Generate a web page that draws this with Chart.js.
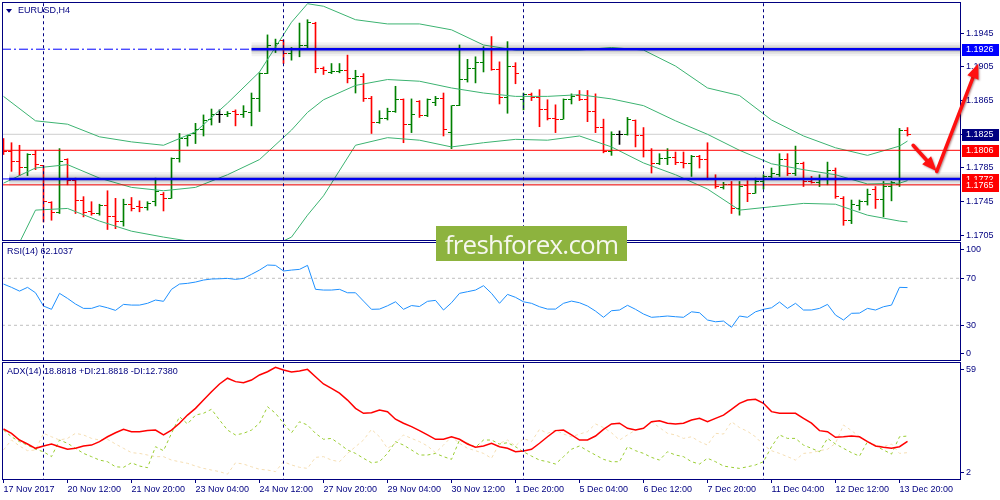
<!DOCTYPE html>
<html>
<head>
<meta charset="utf-8">
<script src="https://cdn.jsdelivr.net/npm/chart.js"></script>
<style>
  body { margin: 0; background: #fff; }
  #wrap { position: relative; width: 1000px; height: 500px; overflow: hidden; background: #fff; font-family: 'Liberation Sans', Arial, sans-serif; }
  canvas { position: absolute; left: 0; }
  .lbl { position: absolute; font-size: 9px; line-height: 11px; color: #000080; white-space: nowrap; }
  #tri { position: absolute; left: 6px; top: 9px; width: 0; height: 0; border-left: 3.5px solid transparent; border-right: 3.5px solid transparent; border-top: 4px solid #000080; }
  #mark { position: absolute; left: 436px; top: 226px; width: 191px; height: 35px; background: #8db33e; color: #f6f7ee;
          font-family: 'Open Sans', sans-serif; font-size: 26px; letter-spacing: -0.8px; display: flex; align-items: center; justify-content: center; }
</style>
</head>
<body>
<div id="wrap">
  <canvas id="main" width="1000" height="241" style="top:0"></canvas>
  <canvas id="rsi" width="1000" height="120" style="top:241px"></canvas>
  <canvas id="adx" width="1000" height="139" style="top:361px"></canvas>
  <div id="tri"></div>
  <div class="lbl" style="left:18px;top:5px">EURUSD,H4</div>
  <div class="lbl" style="left:7px;top:246px">RSI(14) 62.1037</div>
  <div class="lbl" style="left:7px;top:366px">ADX(14) 18.8818 +DI:21.8818 -DI:12.7380</div>
  <div id="mark">freshforex.com</div>
</div>
<script>
// EURUSD H4 bars, 17 Nov 2017 04:00 .. 14 Dec 2017 00:00 (index = bar number)
var openP = [
  1.1806,1.1804,1.1793,1.1786,1.1801,1.1788,1.1744,1.1732,1.1795,1.1770,
  1.1746,1.1733,1.1731,1.1740,1.1728,1.1721,1.1742,1.1739,1.1738,1.1745,
  1.1754,1.1749,1.1796,1.1820,1.1826,1.1831,1.1842,1.1849,1.1848,1.1852,
  1.1848,1.1851,1.1867,1.1897,1.1927,1.1936,1.1921,1.1927,1.1930,1.1957,
  1.1903,1.1898,1.1899,1.1901,1.1891,1.1894,1.1868,1.1839,1.1844,1.1852,
  1.1866,1.1837,1.1864,1.1847,1.1863,1.1868,1.1827,1.1859,1.1890,1.1903,
  1.1910,1.1926,1.1902,1.1869,1.1905,1.1866,1.1872,1.1869,1.1854,1.1844,
  1.1843,1.1866,1.1871,1.1866,1.1852,1.1833,1.1804,1.1825,1.1825,1.1841,
  1.1823,1.1806,1.1790,1.1796,1.1798,1.1791,1.1790,1.1799,1.1795,1.1772,
  1.1762,1.1765,1.1737,1.1764,1.1755,1.1769,1.1775,1.1777,1.1795,1.1778,
  1.1790,1.1769,1.1768,1.1772,1.1782,1.1749,1.1723,1.1741,1.1745,1.1759,
  1.1748,1.1763,1.1765,1.1830
];
var highP = [
  1.1820,1.1815,1.1812,1.1802,1.1806,1.1788,1.1745,1.1808,1.1796,1.1773,
  1.1751,1.1745,1.1742,1.1758,1.1749,1.1748,1.1750,1.1746,1.1745,1.1773,
  1.1756,1.1797,1.1826,1.1824,1.1838,1.1848,1.1855,1.1854,1.1852,1.1854,
  1.1859,1.1874,1.1898,1.1943,1.1938,1.1937,1.1928,1.1957,1.1961,1.1958,
  1.1905,1.1909,1.1909,1.1919,1.1901,1.1897,1.1870,1.1853,1.1856,1.1882,
  1.1867,1.1867,1.1865,1.1867,1.1870,1.1874,1.1859,1.1931,1.1914,1.1917,
  1.1929,1.1941,1.1911,1.1935,1.1910,1.1874,1.1874,1.1878,1.1866,1.1860,
  1.1867,1.1873,1.1877,1.1877,1.1873,1.1843,1.1828,1.1829,1.1845,1.1842,
  1.1833,1.1808,1.1802,1.1808,1.1804,1.1804,1.1800,1.1800,1.1815,1.1777,
  1.1768,1.1769,1.1769,1.1770,1.1773,1.1777,1.1785,1.1802,1.1802,1.1811,
  1.1792,1.1775,1.1777,1.1792,1.1785,1.1751,1.1747,1.1747,1.1760,1.1763,
  1.1769,1.1769,1.1832,1.1833
];
var lowP = [
  1.1801,1.1781,1.1776,1.1776,1.1783,1.1721,1.1723,1.1731,1.1765,1.1731,
  1.1727,1.1729,1.1729,1.1712,1.1713,1.1716,1.1734,1.1733,1.1735,1.1740,
  1.1734,1.1749,1.1792,1.1811,1.1814,1.1823,1.1836,1.1839,1.1846,1.1835,
  1.1845,1.1835,1.1852,1.1897,1.1922,1.1909,1.1913,1.1917,1.1927,1.1898,
  1.1896,1.1897,1.1898,1.1886,1.1874,1.1864,1.1826,1.1838,1.1842,1.1851,
  1.1815,1.1827,1.1845,1.1846,1.1859,1.1823,1.1808,1.1859,1.1887,1.1886,
  1.1899,1.1901,1.1861,1.1850,1.1885,1.1854,1.1865,1.1834,1.1842,1.1827,
  1.1843,1.1861,1.1865,1.1840,1.1827,1.1803,1.1800,1.1813,1.1824,1.1810,
  1.1798,1.1779,1.1789,1.1789,1.1789,1.1785,1.1775,1.1785,1.1771,1.1761,
  1.1760,1.1731,1.1729,1.1745,1.1755,1.1760,1.1773,1.1775,1.1776,1.1776,
  1.1763,1.1767,1.1763,1.1765,1.1749,1.1717,1.1719,1.1735,1.1741,1.1737,
  1.1727,1.1746,1.1763,1.1823
];
var closeP = [
  1.1804,1.1793,1.1786,1.1801,1.1789,1.1745,1.1732,1.1793,1.1770,1.1746,
  1.1732,1.1731,1.1741,1.1728,1.1721,1.1742,1.1737,1.1738,1.1743,1.1757,
  1.1749,1.1796,1.1820,1.1823,1.1831,1.1841,1.1848,1.1849,1.1850,1.1848,
  1.1852,1.1867,1.1897,1.1930,1.1933,1.1921,1.1927,1.1930,1.1958,1.1903,
  1.1901,1.1899,1.1901,1.1891,1.1894,1.1868,1.1839,1.1844,1.1852,1.1866,
  1.1837,1.1849,1.1847,1.1866,1.1868,1.1831,1.1859,1.1890,1.1903,1.1910,
  1.1926,1.1902,1.1869,1.1905,1.1897,1.1872,1.1869,1.1854,1.1844,1.1843,
  1.1866,1.1870,1.1866,1.1852,1.1833,1.1804,1.1825,1.1825,1.1843,1.1823,
  1.1806,1.1790,1.1796,1.1798,1.1791,1.1790,1.1799,1.1795,1.1772,1.1763,
  1.1765,1.1737,1.1763,1.1755,1.1769,1.1775,1.1779,1.1795,1.1778,1.1790,
  1.1769,1.1768,1.1772,1.1782,1.1751,1.1723,1.1742,1.1745,1.1754,1.1748,
  1.1763,1.1768,1.1830,1.1825
];

// Bollinger bands read at these bars
var bbBars   = [0,4,8,12,16,20,24,28,32,36,38,40,44,48,52,56,60,64,68,72,76,80,84,88,92,96,100,104,108,112,113];
var bbUpper  = [1.1870,1.1841,1.1837,1.1822,1.1816,1.1812,1.1828,1.1862,1.1899,1.1958,1.1980,1.1977,1.1961,1.1956,1.1956,1.1949,
                1.1931,1.1925,1.1925,1.1925,1.1928,1.1925,1.1906,1.1880,1.1871,1.1842,1.1823,1.1809,1.1800,1.1811,1.1817];
var bbMiddle = [1.1767,1.1785,1.1789,1.1773,1.1762,1.1758,1.1762,1.1777,1.1795,1.1830,1.1851,1.1866,1.1883,1.1890,1.1888,1.1880,
                1.1874,1.1870,1.1870,1.1872,1.1867,1.1859,1.1841,1.1825,1.1806,1.1790,1.1783,1.1777,1.1766,1.1767,1.1770];
var bbLower  = [1.1658,1.1735,1.1737,1.1722,1.1710,1.1703,1.1697,1.1688,1.1685,1.1703,1.1729,1.1752,1.1812,1.1821,1.1818,1.1810,
                1.1815,1.1819,1.1818,1.1823,1.1810,1.1791,1.1777,1.1760,1.1735,1.1739,1.1743,1.1742,1.1729,1.1722,1.1721];

var rsiVals = [
  65.1,62.3,59.1,62.3,57.7,46.4,43.6,57.2,52.9,48.1,
  44.4,44.4,46.6,44.9,42.7,47.8,47.2,47.2,48.7,51.5,
  50.4,60.6,65.1,65.7,66.8,68.5,69.4,69.6,69.9,69.1,
  69.9,73.4,77.0,81.3,81.0,76.2,77.0,77.6,81.0,60.6,
  60.0,60.0,60.6,57.7,57.7,50.6,43.6,43.8,46.6,50.0,
  43.6,46.8,46.0,50.4,51.2,43.0,49.2,57.2,58.6,60.0,
  63.7,57.2,48.7,56.3,53.8,50.0,48.7,45.8,43.8,43.8,
  48.7,50.6,49.2,46.4,42.1,36.8,42.4,43.0,47.0,43.6,
  39.6,36.8,37.3,37.9,37.3,36.8,41.5,40.7,34.5,33.0,
  33.6,28.3,37.9,36.8,41.5,43.6,44.9,49.8,44.4,48.7,
  43.0,43.0,44.4,47.8,38.7,34.5,40.2,40.4,44.4,43.0,
  45.8,47.2,62.3,62.1
];
var adxVals = [
  25.8,23.4,19.7,17.5,15.1,16.4,17.5,16.0,14.6,15.1,
  16.4,16.9,18.8,21.5,23.7,25.6,24.3,24.3,24.9,25.2,
  22.5,25.2,29.0,33.5,37.2,41.8,46.4,50.7,53.9,52.0,
  51.4,52.9,55.7,57.5,59.9,58.4,57.3,57.9,58.8,54.7,
  50.7,48.3,45.6,41.8,37.2,34.5,34.8,36.3,35.4,31.2,
  29.0,27.1,24.9,22.5,20.1,20.1,21.5,20.1,17.5,15.7,
  16.4,17.9,16.0,15.1,13.2,13.6,14.6,17.9,21.5,24.9,
  25.2,22.5,19.7,19.7,21.9,25.6,28.6,29.0,26.2,25.2,
  26.2,29.8,30.4,29.0,28.6,29.0,30.8,31.7,29.8,31.7,
  33.5,36.7,40.0,41.8,42.2,40.0,35.4,34.5,34.5,34.5,
  31.7,29.0,24.9,24.3,21.2,21.5,21.9,21.5,18.8,16.4,
  15.7,15.1,16.0,18.9
];
var plusDI = [
  25.2,21.5,18.8,16.9,14.6,13.2,10.5,19.7,17.9,15.1,
  12.3,10.5,8.6,7.7,4.9,4.6,7.1,5.3,4.4,16.0,
  13.8,23.4,32.6,28.6,33.5,34.5,36.7,30.8,25.2,22.5,
  23.4,25.2,29.0,38.1,34.5,29.0,23.7,29.8,28.0,23.4,
  20.1,20.6,17.5,14.2,12.3,9.6,7.1,7.7,12.3,18.8,
  16.9,14.2,11.4,11.4,12.3,10.5,9.0,19.7,17.9,15.7,
  19.7,19.7,17.5,18.2,16.0,13.2,10.8,8.6,7.7,6.4,
  10.5,14.6,16.4,13.8,11.4,9.0,7.7,7.7,16.0,13.8,
  12.3,10.1,8.6,13.2,11.4,10.5,7.7,6.4,9.6,7.7,
  5.3,4.6,4.0,4.9,5.9,7.7,16.0,22.5,20.6,20.6,
  16.9,15.1,13.2,20.6,17.5,15.1,12.7,10.8,18.8,16.4,
  14.2,11.9,21.5,21.9
];
var minusDI = [
  14.2,19.7,16.4,13.8,14.2,23.4,21.5,19.7,20.6,23.4,
  22.5,20.6,19.7,20.1,17.5,15.1,12.7,12.3,11.4,10.5,
  10.5,8.6,7.7,6.8,5.3,4.0,3.1,2.2,0.8,7.1,
  6.4,4.9,3.5,3.1,2.2,7.7,5.9,4.6,4.0,10.1,
  10.5,8.6,7.7,12.3,16.0,19.7,25.6,21.5,15.1,17.9,
  22.5,20.6,18.8,16.4,12.7,16.9,21.5,17.9,15.1,13.8,
  12.3,9.6,17.9,19.7,16.4,20.6,18.8,25.6,23.4,25.2,
  23.0,21.5,23.0,24.3,28.6,26.6,23.7,19.7,22.5,25.2,
  26.2,29.8,26.6,23.4,22.5,20.6,21.5,18.8,16.9,23.4,
  23.0,29.8,26.6,24.5,21.5,16.9,13.8,12.3,10.5,8.6,
  12.3,12.7,13.8,14.6,17.9,28.0,24.9,21.5,18.8,16.9,
  16.0,17.5,12.3,12.7
];

var priceTicks = [1.1705, 1.1745, 1.1785, 1.1825, 1.1865, 1.1905, 1.1945];
var rsiTicks = [100, 70, 30, 0];
var rsiLevels = [70, 30];
var adxTicks = [59, 2];
var xTickBars = [0, 8, 16, 24, 32, 40, 48, 56, 64, 72, 80, 88, 96, 104, 112];
var xTickLabels = ['17 Nov 2017', '20 Nov 12:00', '21 Nov 20:00', '23 Nov 04:00', '24 Nov 12:00', '27 Nov 20:00',
  '29 Nov 04:00', '30 Nov 12:00', '1 Dec 20:00', '5 Dec 04:00', '6 Dec 12:00', '7 Dec 20:00',
  '11 Dec 04:00', '12 Dec 12:00', '13 Dec 20:00'];
var weekBars = [5, 35, 65, 95];

var bidPrice = 1.1825;
var supportLevels = [1.1926, 1.1772];   // blue horizontal lines
var thickFrom = [31, 0.7];              // bar where the thick part of each blue line starts
var redLevels = [1.1806, 1.1765];
var levelBoxes = [
  { v: 1.1926, bg: '#0000ff' },
  { v: 1.1825, bg: '#000080' },
  { v: 1.1806, bg: '#ff0000' },
  { v: 1.1772, bg: '#ff0000' },
  { v: 1.1765, bg: '#ff0000' }
];
// hand drawn forecast arrow (bar, price)
var arrowBars = [113.7, 116.65, 121.85];
var arrowPrices = [1.1812, 1.1781, 1.1909];

var NAVY = '#000080';
var X_MIN = -0.1875, X_MAX = 119.5625;
Chart.defaults.font.family = "'Liberation Sans', Arial, sans-serif";
Chart.defaults.font.size = 9;
Chart.defaults.color = NAVY;

function noPad(s) { s.paddingTop = 0; s.paddingBottom = 0; s.paddingLeft = 0; s.paddingRight = 0; }

function xScale(show) {
  return {
    type: 'linear', min: X_MIN, max: X_MAX, offset: false, display: show,
    grid: { drawOnChartArea: false, drawTicks: true, tickLength: 4, color: NAVY },
    border: { display: false },
    afterBuildTicks: function (s) { s.ticks = xTickBars.map(function (v) { return { value: v }; }); },
    ticks: { autoSkip: false, maxRotation: 0, minRotation: 0, align: 'start', padding: 1, color: NAVY,
             callback: function (v, i) { return xTickLabels[i]; } },
    afterFit: function (s) { noPad(s); if (show) s.height = 21; }
  };
}
function yScale(min, max, withLabels) {
  var s = {
    type: 'linear', position: 'right', min: min, max: max, beginAtZero: false,
    border: { display: false },
    afterFit: function (sc) { noPad(sc); sc.width = 40; }
  };
  if (withLabels) {
    s.grid = { drawOnChartArea: false, drawTicks: true, tickLength: 4, color: NAVY };
    s.afterBuildTicks = function (sc) { sc.ticks = priceTicks.map(function (v) { return { value: v }; }); };
    s.ticks = { padding: 2, color: NAVY, callback: function (v) { return Number(v).toFixed(4); } };
  } else {
    s.grid = { display: false };
    s.ticks = { display: false };
  }
  return s;
}

function hline(v, x0, x1, color, width, dash, order) {
  return { type: 'line', data: [{ x: x0, y: v }, { x: x1, y: v }], borderColor: color, borderWidth: width,
           borderDash: dash || [], pointRadius: 0, order: order, clip: 0 };
}
function vlines(lo, hi) {
  return weekBars.map(function (b) {
    return { type: 'line', data: [{ x: b, y: lo }, { x: b, y: hi }], borderColor: NAVY, borderWidth: 1,
             borderDash: [3, 3], pointRadius: 0, order: 0, clip: 0 };
  });
}
function series(vals, color, width, dash, order) {
  return { type: 'line', data: vals.map(function (v, i) { return { x: i, y: v }; }), borderColor: color,
           borderWidth: width, borderDash: dash || [], pointRadius: 0, tension: 0, order: order, clip: 0 };
}

var barColors = openP.map(function (o, i) {
  return closeP[i] > o ? '#008000' : (closeP[i] < o ? '#ff0000' : '#000000');
});

var frame = {
  id: 'frame',
  afterDraw: function (chart) {
    var a = chart.chartArea, ctx = chart.ctx;
    ctx.save();
    ctx.strokeStyle = NAVY; ctx.lineWidth = 1;
    ctx.strokeRect(a.left + 0.5, a.top + 0.5, a.right - a.left, a.bottom - a.top);
    ctx.restore();
  }
};

var ohlcTicks = {
  id: 'ohlcTicks',
  afterDatasetDraw: function (chart, args) {
    if (args.index !== 0) return;
    var x = chart.scales.x, y = chart.scales.y, ctx = chart.ctx, a = chart.chartArea;
    ctx.save();
    ctx.beginPath(); ctx.rect(a.left, a.top, a.right - a.left, a.bottom - a.top); ctx.clip();
    for (var i = 0; i < openP.length; i++) {
      var col = Math.floor(x.getPixelForValue(i));
      ctx.fillStyle = barColors[i];
      ctx.fillRect(col - 3, Math.round(y.getPixelForValue(openP[i]) - 0.5), 3, 1);
      ctx.fillRect(col + 1, Math.round(y.getPixelForValue(closeP[i]) - 0.5), 3, 1);
    }
    ctx.restore();
  }
};

var priceBoxes = {
  id: 'priceBoxes',
  afterDraw: function (chart) {
    var y = chart.scales.y, x = chart.scales.x, a = chart.chartArea, ctx = chart.ctx;
    ctx.save();
    ctx.font = "9px 'Liberation Sans', Arial, sans-serif";
    ctx.textBaseline = 'middle';
    levelBoxes.forEach(function (b) {
      var py = Math.round(y.getPixelForValue(b.v));
      ctx.fillStyle = b.bg;
      ctx.fillRect(a.right + 2, py - 5, 37, 12);
      ctx.fillStyle = '#ffffff';
      ctx.fillText(b.v.toFixed(4), a.right + 6, py + 1);
    });
    // forecast arrow
    var pts = arrowBars.map(function (b, k) { return [x.getPixelForValue(b), y.getPixelForValue(arrowPrices[k])]; });
    ctx.shadowColor = 'rgba(90,0,0,0.45)'; ctx.shadowBlur = 2; ctx.shadowOffsetX = 1; ctx.shadowOffsetY = 1;
    ctx.strokeStyle = '#ff1010'; ctx.fillStyle = '#ff1010'; ctx.lineWidth = 3.5; ctx.lineCap = 'round';
    for (var k = 1; k < pts.length; k++) {
      var x0 = pts[k - 1][0], y0 = pts[k - 1][1], x1 = pts[k][0], y1 = pts[k][1];
      var ang = Math.atan2(y1 - y0, x1 - x0), L = 15, W = 6;
      var bx = x1 - L * Math.cos(ang), by = y1 - L * Math.sin(ang);
      ctx.beginPath(); ctx.moveTo(x0, y0); ctx.lineTo(bx, by); ctx.stroke();
      ctx.beginPath(); ctx.moveTo(x1, y1);
      ctx.lineTo(bx - W * Math.sin(ang), by + W * Math.cos(ang));
      ctx.lineTo(bx + W * Math.sin(ang), by - W * Math.cos(ang));
      ctx.closePath(); ctx.fill();
    }
    ctx.restore();
  }
};

var insetAxis = {
  id: 'insetAxis',
  afterDraw: function (chart, args, opts) {
    var y = chart.scales.y, a = chart.chartArea, ctx = chart.ctx;
    ctx.save();
    ctx.fillStyle = NAVY; ctx.strokeStyle = NAVY; ctx.lineWidth = 1;
    ctx.font = "9px 'Liberation Sans', Arial, sans-serif";
    ctx.textBaseline = 'middle';
    (opts.values || []).forEach(function (v) {
      var py = Math.min(Math.max(y.getPixelForValue(v), a.top + 7), a.bottom - 7);
      py = Math.round(py) + 0.5;
      ctx.beginPath(); ctx.moveTo(a.right, py); ctx.lineTo(a.right + 4, py); ctx.stroke();
      ctx.fillText(String(v), a.right + 6, py);
    });
    ctx.restore();
  }
};

var baseOpts = {
  responsive: false, animation: false, devicePixelRatio: 1, events: [],
  plugins: { legend: { display: false }, tooltip: { enabled: false } }
};

// ---- price panel ----
var P_MIN = 1.169954, P_MAX = 1.198203;
var mainSets = [
  { type: 'bar', data: openP.map(function (o, i) { return { x: i, y: [lowP[i], highP[i]] }; }),
    backgroundColor: barColors, barThickness: 1, borderWidth: 0, order: 10 }
];
[bbUpper, bbMiddle, bbLower].forEach(function (arr) {
  mainSets.push({ type: 'line', data: bbBars.map(function (b, k) { return { x: b, y: arr[k] }; }),
    borderColor: '#3cb371', borderWidth: 1, pointRadius: 0, tension: 0, order: 9, clip: 0 });
});
mainSets.push(hline(bidPrice, X_MIN, X_MAX, '#cfcfcf', 1, [], 12));
redLevels.forEach(function (v) { mainSets.push(hline(v, X_MIN, X_MAX, '#ff0000', 1, [], 4)); });
supportLevels.forEach(function (v, k) {
  mainSets.push(hline(v, X_MIN, thickFrom[k], '#0000ff', 1, [9, 3, 2, 3], 3));
  mainSets.push(hline(v, thickFrom[k], X_MAX, 'rgba(0,0,0,0.05)', 14, [], 3));
  mainSets.push(hline(v, thickFrom[k], X_MAX, 'rgba(0,0,0,0.08)', 9, [], 3));
  mainSets.push(hline(v, thickFrom[k], X_MAX, 'rgba(0,0,0,0.12)', 5, [], 2));
  mainSets.push(hline(v, thickFrom[k], X_MAX, '#0000ee', 2.5, [], 1));
});
mainSets = mainSets.concat(vlines(P_MIN - 0.01, P_MAX + 0.01));

new Chart(document.getElementById('main'), {
  type: 'bar',
  data: { datasets: mainSets },
  options: Object.assign({}, baseOpts, {
    layout: { padding: { left: 2, right: 0, top: 2, bottom: 1 } },
    scales: { x: xScale(false), y: yScale(P_MIN, P_MAX, true) }
  }),
  plugins: [ohlcTicks, frame, priceBoxes]
});

// ---- RSI panel ----
var rsiSets = [series(rsiVals, '#1e90ff', 1, [], 1)];
rsiLevels.forEach(function (v) { rsiSets.push(hline(v, X_MIN, X_MAX, '#c0c0c0', 1, [3, 3], 3)); });
rsiSets = rsiSets.concat(vlines(-10, 110));

new Chart(document.getElementById('rsi'), {
  type: 'line',
  data: { datasets: rsiSets },
  options: Object.assign({}, baseOpts, {
    layout: { padding: { left: 2, right: 0, top: 1, bottom: 1 } },
    scales: { x: xScale(false), y: yScale(0.468, 100.89, false) },
    plugins: Object.assign({}, baseOpts.plugins, { insetAxis: { values: rsiTicks } })
  }),
  plugins: [frame, insetAxis]
});

// ---- ADX panel ----
var adxSets = [
  series(adxVals, '#ff0000', 1.5, [], 1),
  series(plusDI, '#9acd32', 1, [3, 3], 2),
  series(minusDI, '#f5deb3', 1, [3, 3], 3)
].concat(vlines(-10, 80));

new Chart(document.getElementById('adx'), {
  type: 'line',
  data: { datasets: adxSets },
  options: Object.assign({}, baseOpts, {
    layout: { padding: { left: 2, right: 0, top: 1, bottom: 0 } },
    scales: { x: xScale(true), y: yScale(-1.87, 62.87, false) },
    plugins: Object.assign({}, baseOpts.plugins, { insetAxis: { values: adxTicks } })
  }),
  plugins: [frame, insetAxis]
});
</script>
</body>
</html>
